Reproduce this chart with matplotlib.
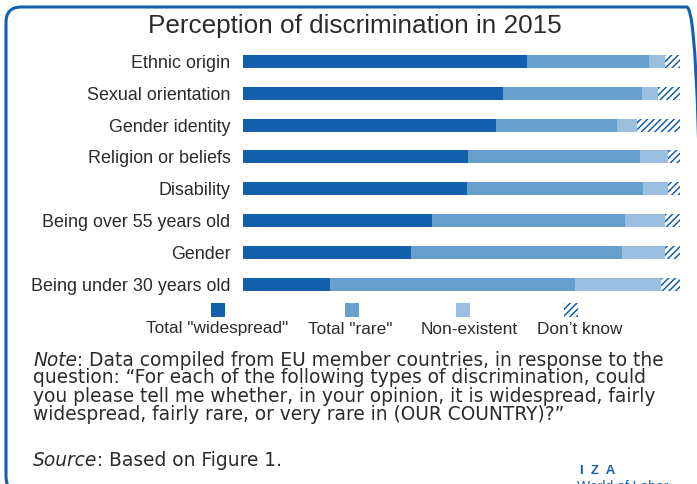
import matplotlib
matplotlib.use("Agg")
import matplotlib.pyplot as plt
from matplotlib.patches import Rectangle, FancyBboxPatch
from matplotlib.text import Annotation
import numpy as np

categories = ["Ethnic origin", "Sexual orientation", "Gender identity",
              "Religion or beliefs", "Disability", "Being over 55 years old",
              "Gender", "Being under 30 years old"]
widespread = [64.9, 59.5, 57.9, 51.5, 51.3, 43.2, 38.4, 19.9]
rare = [28.0, 31.8, 27.7, 39.3, 40.3, 44.2, 48.3, 56.1]
non_existent = [3.7, 3.7, 4.6, 6.4, 5.7, 9.2, 9.8, 19.7]
dont_know = [3.4, 5.0, 9.8, 2.7, 2.7, 3.4, 3.4, 4.3]
series_names = ['Total "widespread"', 'Total "rare"', 'Non-existent', 'Don\u2019t know']

C_WIDE = "#1560ad"
C_RARE = "#679fcd"
C_NON = "#9bbfe0"
C_FRAME = "#1560ad"
TXT = "#2b2b2b"

plt.rcParams['font.family'] = ['Liberation Sans', 'DejaVu Sans']
plt.rcParams['hatch.linewidth'] = 1.1
plt.rcParams['hatch.color'] = C_WIDE

W, H = 697, 484
fig = plt.figure(figsize=(W / 100, H / 100), dpi=100)

def fx(px):
    return px / W

def fy(py):
    return 1 - py / H

# frame
frame = FancyBboxPatch((fx(6), fy(492)), fx(702) - fx(6), fy(7) - fy(492),
                       boxstyle="round,pad=0,rounding_size=0.022",
                       transform=fig.transFigure, fill=False,
                       edgecolor=C_FRAME, linewidth=2.2, mutation_aspect=W / H)
fig.patches.append(frame)

# axes
ax_top, ax_bot = 45, 300
ax = fig.add_axes([fx(243), fy(ax_bot), fx(680) - fx(243), fy(ax_top) - fy(ax_bot)])
y0, dy = 61.5, 31.8
ax.set_ylim((ax_bot - y0) / dy, (ax_top - y0) / dy)
ax.set_xlim(0, 100)
y = np.arange(len(categories))
h = 0.41
left = np.zeros(len(categories))
ax.barh(y, widespread, left=left, height=h, color=C_WIDE, linewidth=0)
left += np.array(widespread)
ax.barh(y, rare, left=left, height=h, color=C_RARE, linewidth=0)
left += np.array(rare)
ax.barh(y, non_existent, left=left, height=h, color=C_NON, linewidth=0)
left += np.array(non_existent)
ax.barh(y, dont_know, left=left, height=h, color="white", edgecolor=C_WIDE,
        hatch="/////", linewidth=0)
ax.set_yticks(y)
ax.set_yticklabels(categories, fontsize=12.85, color=TXT)
ax.tick_params(axis='y', length=0, pad=9)
ax.set_xticks([])
for s in ax.spines.values():
    s.set_visible(False)

# title
fig.text(fx(355), fy(26), "Perception of discrimination in 2015", fontsize=18.8,
         color=TXT, ha="center", va="center")

# legend
leg_x = [218, 352, 463, 571]
leg_lx = [217, 350, 469, 580]
leg_style = [dict(facecolor=C_WIDE), dict(facecolor=C_RARE), dict(facecolor=C_NON),
             dict(facecolor="white", edgecolor=C_WIDE, hatch="/////")]
for cx, lx, name, st in zip(leg_x, leg_lx, series_names, leg_style):
    r = Rectangle((fx(cx - 7), fy(317)), fx(14), fy(303) - fy(317),
                  transform=fig.transFigure, linewidth=0, **st)
    fig.patches.append(r)
    fig.text(fx(lx), fy(329), name, fontsize=12.4, color=TXT, ha="center", va="center")

# note
NFS = 13.4
note_first = ": Data compiled from EU member countries, in response to the"
note_rest = "\n".join([
    "question: \u201cFor each of the following types of discrimination, could",
    "you please tell me whether, in your opinion, it is widespread, fairly",
    "widespread, fairly rare, or very rare in (OUR COUNTRY)?\u201d",
])
t_note = fig.text(fx(33), fy(360), "Note", fontsize=NFS, color=TXT, ha="left",
                  va="center", family="DejaVu Sans", style="italic")
fig.add_artist(Annotation(
    note_first, xy=(1, 0), xycoords=t_note, fontsize=NFS, color=TXT,
    ha="left", va="bottom", family="DejaVu Sans"))
fig.text(fx(33), fy(368), note_rest, fontsize=NFS, color=TXT, ha="left",
         va="top", family="DejaVu Sans", linespacing=0.97)

t_src = fig.text(fx(33), fy(461), "Source", fontsize=NFS, color=TXT, ha="left",
                 va="center", family="DejaVu Sans", style="italic")
fig.add_artist(Annotation(
    ": Based on Figure 1.", xy=(1, 0), xycoords=t_src, fontsize=NFS, color=TXT,
    ha="left", va="bottom", family="DejaVu Sans"))

# logo
fig.text(fx(598), fy(471), "I  Z  A", fontsize=9.5, color=C_WIDE, ha="center",
         va="center", fontweight="bold")
fig.text(fx(577), fy(480), "World of Labor", fontsize=10, color=C_WIDE,
         ha="left", va="top")

fig.savefig("out.png", dpi=100)
